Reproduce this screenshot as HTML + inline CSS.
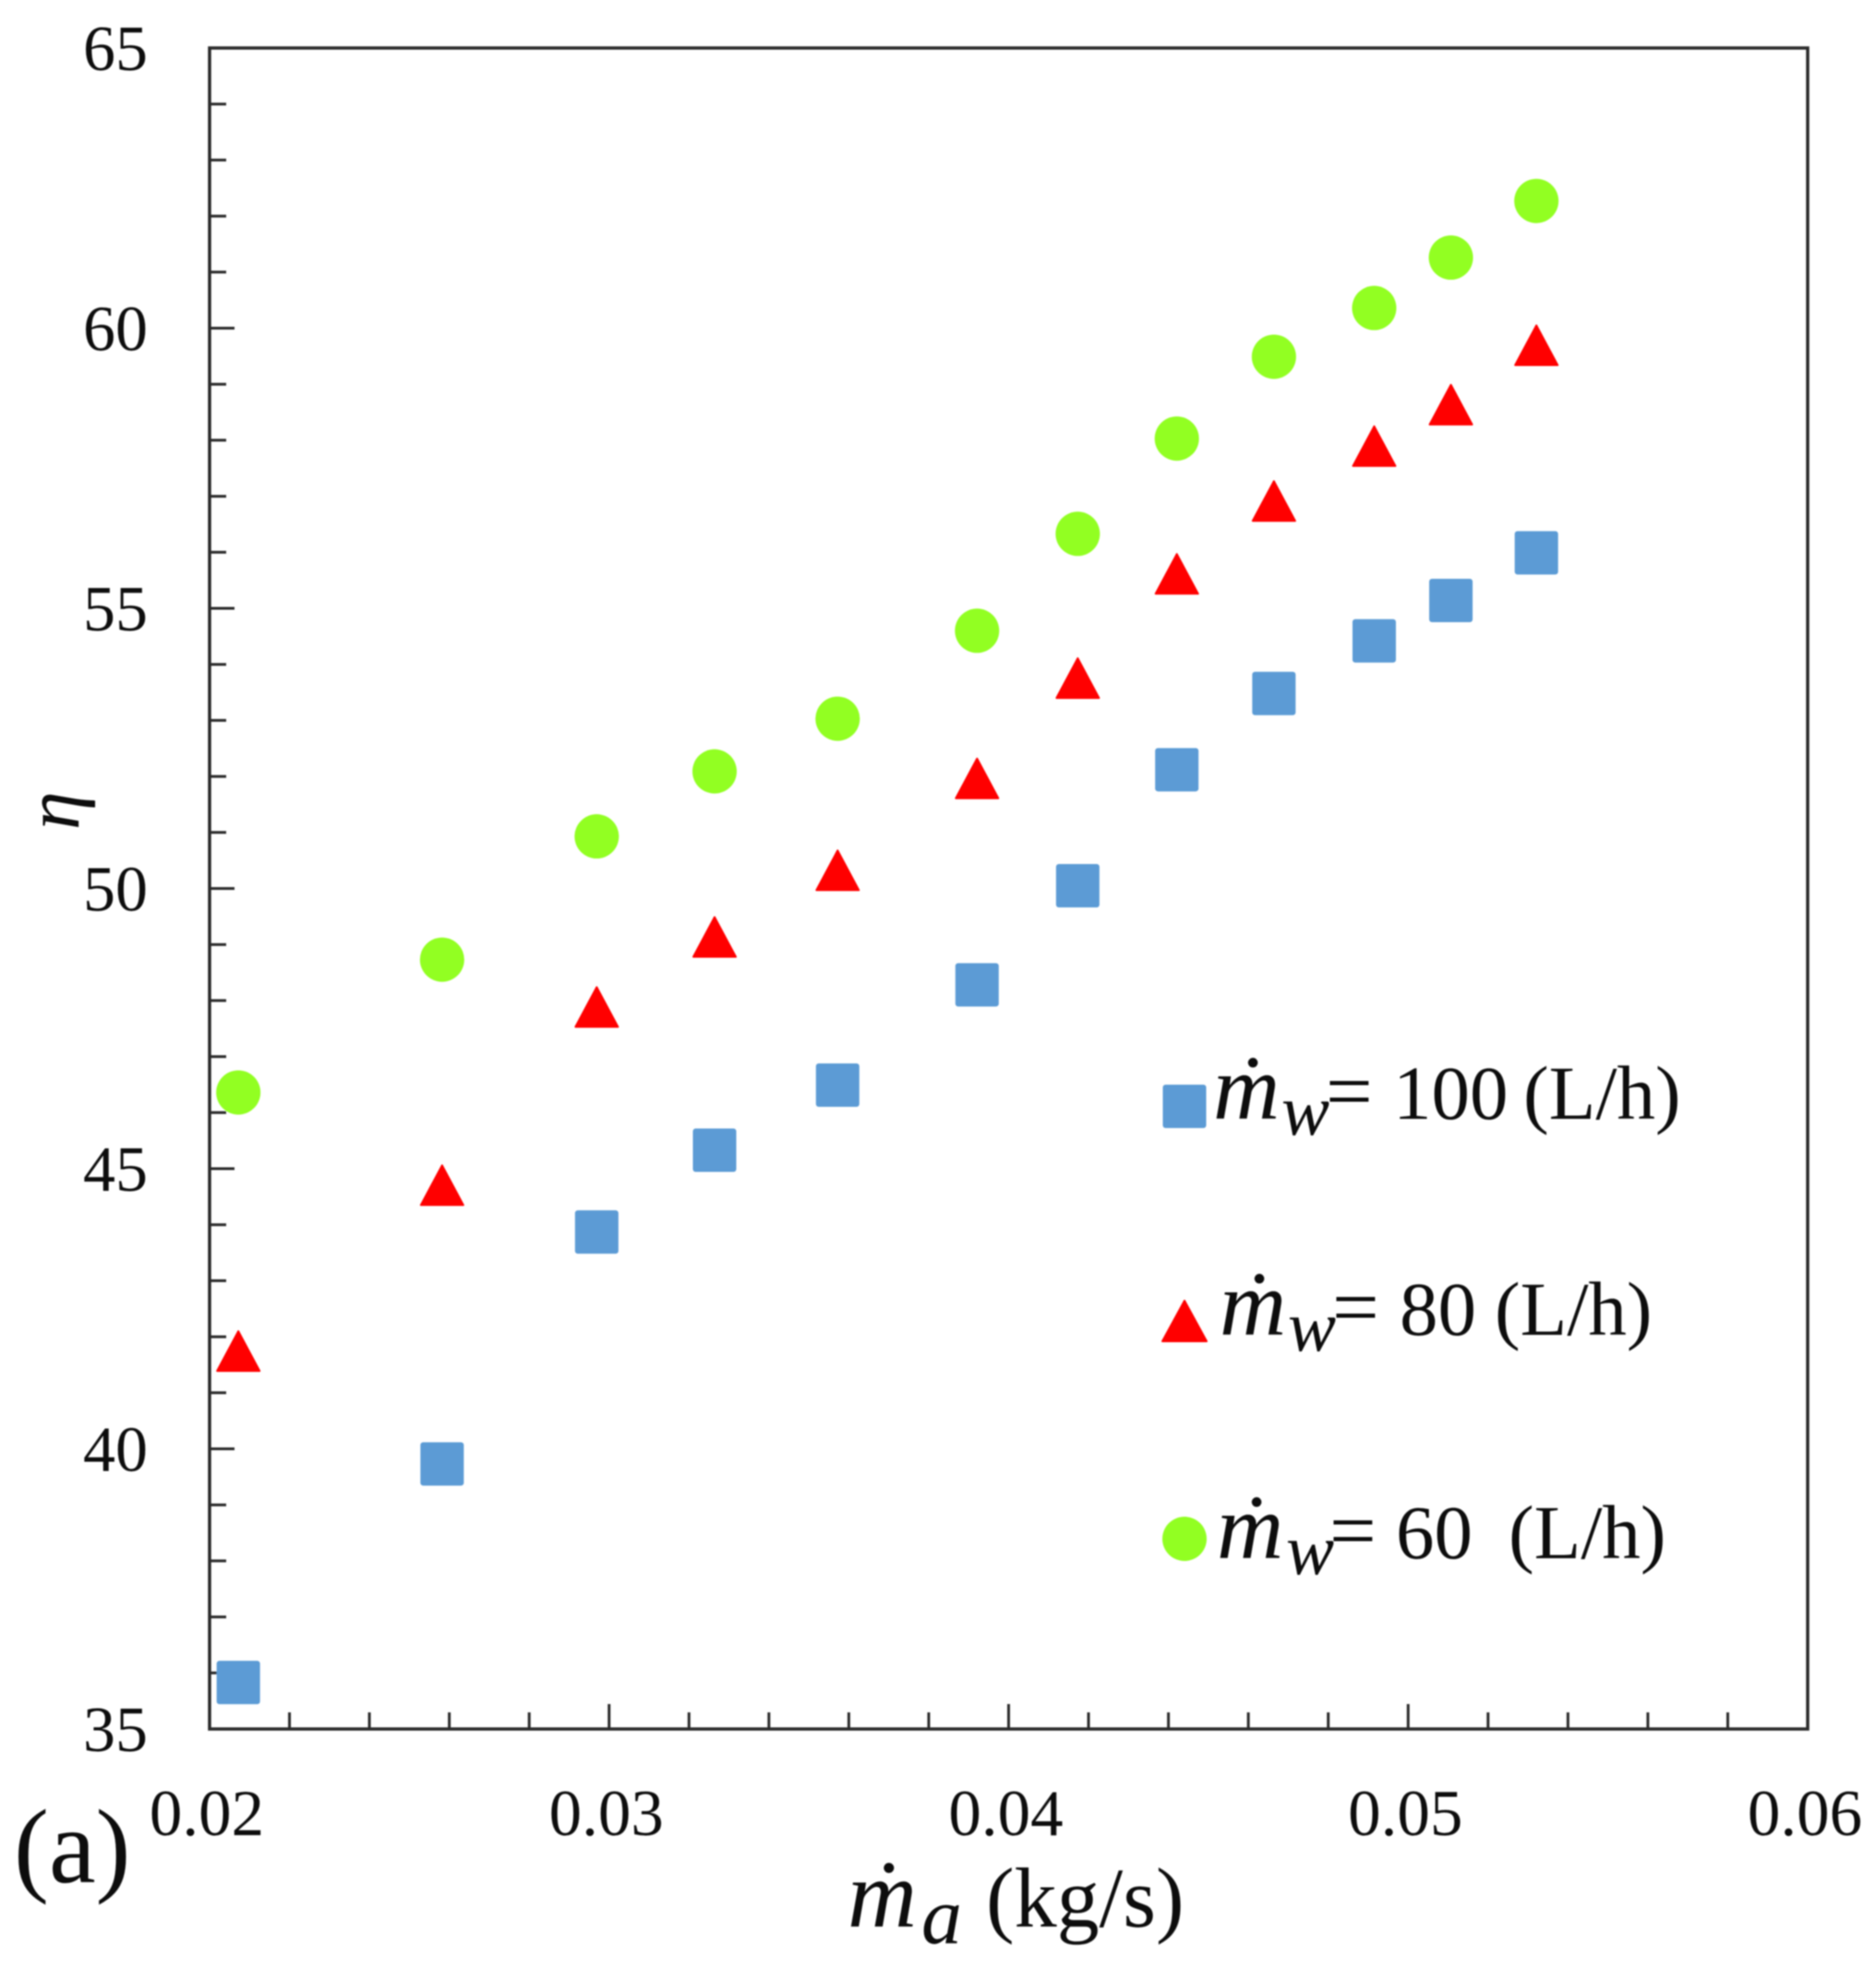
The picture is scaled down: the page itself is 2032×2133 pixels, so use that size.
<!DOCTYPE html>
<html lang="en">
<head>
<meta charset="utf-8">
<title>Efficiency versus air mass flow rate</title>
<style>
html,body{margin:0;padding:0;background:#fff;width:2032px;height:2133px;overflow:hidden}
svg{display:block}
text{font-family:"Liberation Serif","DejaVu Serif",serif;fill:#111}
.it{font-style:italic}
</style>
</head>
<body>
<svg id="chart" xmlns="http://www.w3.org/2000/svg" width="2032" height="2133" viewBox="0 0 2032 2133">
  <defs><filter id="soft" x="-2%" y="-2%" width="104%" height="104%"><feGaussianBlur stdDeviation="0.9"/></filter></defs>
  <rect width="2032" height="2133" fill="#fff"/>
  <g id="root" filter="url(#soft)">
    <rect id="frame" fill="none" stroke="#2a2a2a" stroke-width="3.5"/>
    <g id="ticks"></g>
    <g id="labels"></g>
    <g id="marks"></g>

    <text class="it" font-size="84" transform="translate(85 899) rotate(-90)">η</text>
    <text x="15" y="2039" font-size="114">(a)</text>
    <g>
      <text class="it" x="918" y="2087" font-size="104">ṁ</text>
      <text class="it" x="998" y="2105" font-size="88">a</text>
      <text x="1068" y="2087" font-size="92">(kg/s)</text>
    </g>

    <g>
      <g>
        <rect x="1259.5" y="1175" width="47" height="47" rx="3" fill="#5B9BD5"/>
        <text class="it" x="1314" y="1212" font-size="100">ṁ</text>
        <text class="it" x="1388" y="1229" font-size="78">w</text>
        <text x="1436" y="1212" font-size="90">=</text>
        <text x="1509" y="1212" font-size="83">100</text>
        <text x="1650" y="1212" font-size="83">(L/h)</text>
      </g>
      <g>
        <polygon points="1283,1409 1307,1453 1259,1453" fill="#FF0000" stroke="#FF0000" stroke-width="2" stroke-linejoin="round"/>
        <text class="it" x="1321" y="1446" font-size="100">ṁ</text>
        <text class="it" x="1395" y="1463" font-size="78">w</text>
        <text x="1443" y="1446" font-size="90">=</text>
        <text x="1516" y="1446" font-size="83">80</text>
        <text x="1619" y="1446" font-size="83">(L/h)</text>
      </g>
      <g>
        <circle cx="1283" cy="1667" r="24" fill="#92FF21"/>
        <text class="it" x="1318" y="1688" font-size="100">ṁ</text>
        <text class="it" x="1393" y="1705" font-size="78">w</text>
        <text x="1440" y="1688" font-size="90">=</text>
        <text x="1512" y="1688" font-size="83">60</text>
        <text x="1634" y="1688" font-size="83">(L/h)</text>
      </g>
    </g>
  </g>
</svg>
<script>
const xValues = [0.02072,0.02582,0.02969,0.03264,0.03572,0.03921,0.04173,0.04421,0.04664,0.04915,0.05107,0.05321];
const flow100Values = [35.83,39.73,43.87,45.33,46.49,48.28,50.05,52.12,53.48,54.42,55.14,55.99];
const flow80Values = [41.72,44.68,47.86,49.11,50.30,51.94,53.73,55.59,56.89,57.87,58.61,59.67];
const flow60Values = [46.36,48.73,50.93,52.09,53.03,54.60,56.33,58.03,59.49,60.36,61.26,62.27];
const xTickValues = [0.02,0.03,0.04,0.05,0.06];
const xTickLabels = ["0.02","0.03","0.04","0.05","0.06"];
const yTickValues = [35,40,45,50,55,60,65];
const yTickLabels = ["35","40","45","50","55","60","65"];

const NS = "http://www.w3.org/2000/svg";
const plot = {left:227,right:1958,top:52,bottom:1873};
const xDomain = [0.02,0.06];
const yDomain = [35,65];
function xScale(v){return plot.left+(v-xDomain[0])/(xDomain[1]-xDomain[0])*(plot.right-plot.left);}
function yScale(v){return plot.bottom-(v-yDomain[0])/(yDomain[1]-yDomain[0])*(plot.bottom-plot.top);}
function make(tag,attrs,parent){
  const el=document.createElementNS(NS,tag);
  for(const k in attrs){el.setAttribute(k,attrs[k]);}
  parent.appendChild(el);
  return el;
}
const frame=document.getElementById("frame");
frame.setAttribute("x",plot.left);
frame.setAttribute("y",plot.top);
frame.setAttribute("width",plot.right-plot.left);
frame.setAttribute("height",plot.bottom-plot.top);

const tickGroup=document.getElementById("ticks");
const labelGroup=document.getElementById("labels");
const markGroup=document.getElementById("marks");

// y-axis ticks: a minor tick every 1 unit, a major one at each labelled value
for(let v=yDomain[0]+1;v<yDomain[1];v+=1){
  const major=yTickValues.indexOf(v)>=0;
  const t=make("line",{x1:plot.left,x2:plot.left+(major?27:18),y1:yScale(v),y2:yScale(v),stroke:"#2a2a2a","stroke-width":3},tickGroup);
  
  
}
// x-axis ticks: a minor tick every 0.002, a major one at each labelled value
for(let i=1;i<20;i++){
  const v=xDomain[0]+i*0.002;
  const major=i%5===0;
  const t=make("line",{x1:xScale(v),x2:xScale(v),y1:plot.bottom,y2:plot.bottom-(major?27:18),stroke:"#2a2a2a","stroke-width":3},tickGroup);
  
  
}
yTickValues.forEach(function(v,i){
  const t=make("text",{x:160,y:yScale(v)+24,"font-size":70,"text-anchor":"end"},labelGroup);
  t.textContent=yTickLabels[i];
  
  
});
xTickValues.forEach(function(v,i){
  const t=make("text",{x:xScale(v)-3,y:1988,"font-size":71,"text-anchor":"middle"},labelGroup);
  t.textContent=xTickLabels[i];
  
  
});
flow100Values.forEach(function(v,i){
  const cx=xScale(xValues[i]),cy=yScale(v);
  const m=make("rect",{x:cx-23.5,y:cy-23.5,width:47,height:47,rx:3,fill:"#5B9BD5"},markGroup);
  
  
});
flow80Values.forEach(function(v,i){
  const cx=xScale(xValues[i]),cy=yScale(v);
  const pts=[[cx,cy-23],[cx+23,cy+20],[cx-23,cy+20]].map(function(p){return p.join(",");}).join(" ");
  const m=make("polygon",{points:pts,fill:"#FF0000",stroke:"#FF0000","stroke-width":2,"stroke-linejoin":"round"},markGroup);
  
  
});
flow60Values.forEach(function(v,i){
  const m=make("circle",{cx:xScale(xValues[i]),cy:yScale(v),r:24,fill:"#92FF21"},markGroup);
  
  
});
</script>
</body>
</html>
